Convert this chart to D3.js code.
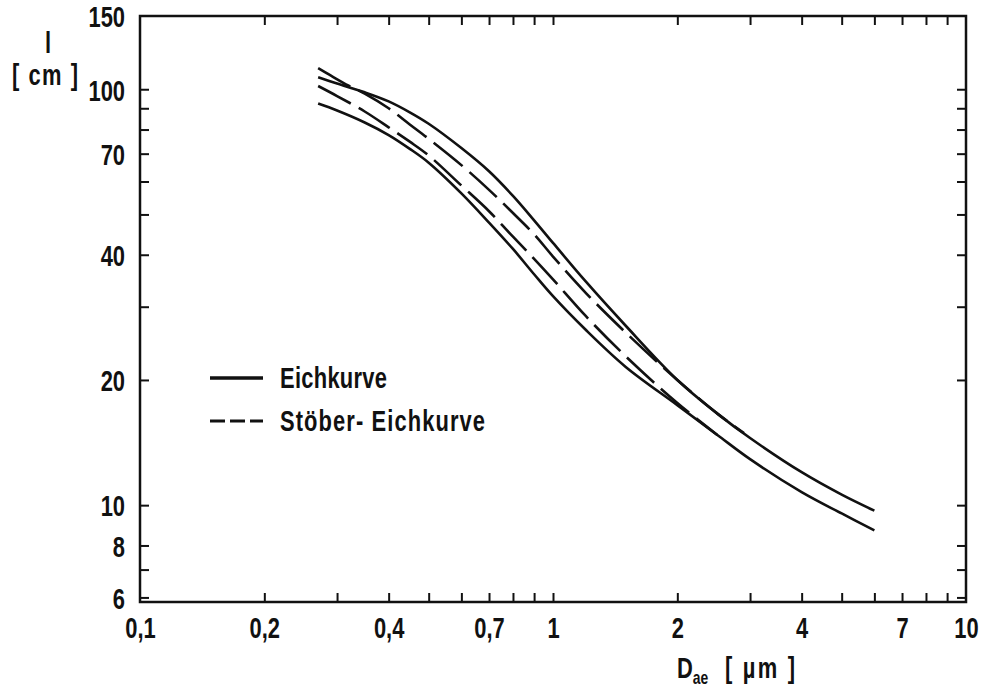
<!DOCTYPE html>
<html>
<head>
<meta charset="utf-8">
<script src="https://cdn.jsdelivr.net/npm/d3@7"></script>
<style>
  body { margin: 0; background: #fff; }
  svg text { font-family: "Liberation Sans", Arial, sans-serif; font-weight: bold; fill: #111; }
</style>
</head>
<body>
<svg id="chart" width="983" height="688"></svg>
<script>
// data (D_ae in µm, l in cm)
const xEich = [0.27, 0.3, 0.35, 0.4, 0.45, 0.5, 0.6, 0.7, 0.8, 0.9, 1, 1.2, 1.5, 2, 2.5, 3, 4, 5, 6];
const eichOben = [106.8, 103.2, 98.3, 93.5, 88.0, 82.6, 72.2, 63.5, 55.4, 48.4, 42.7, 34.5, 27.0, 20.0, 16.6, 14.5, 12.0, 10.6, 9.7];
const eichUnten = [92.4, 88.9, 83.2, 77.6, 71.9, 66.6, 56.2, 47.8, 41.3, 35.9, 31.8, 26.4, 21.5, 17.4, 14.75, 12.9, 10.75, 9.55, 8.7];

const xStoeberOben = [0.27, 0.29, 0.32, 0.35, 0.4, 0.45, 0.5, 0.6, 0.7, 0.8, 0.9, 1, 1.2, 1.5, 2, 2.5, 2.9];
const stoeberOben = [112.4, 107.8, 102.0, 97.6, 90.0, 82.3, 76.0, 65.7, 57.3, 50.4, 44.8, 39.6, 32.4, 26.0, 20.0, 16.6, 14.9];
const xStoeberUnten = [0.27, 0.3, 0.35, 0.4, 0.45, 0.5, 0.6, 0.7, 0.8, 0.9, 1, 1.2, 1.5, 2, 2.5];
const stoeberUnten = [101.8, 96.3, 88.4, 81.0, 74.8, 69.3, 58.7, 50.9, 44.2, 39.1, 34.9, 28.5, 22.8, 17.6, 14.75];

const xTicks = [0.2, 0.3, 0.4, 0.5, 0.6, 0.7, 0.8, 0.9, 1, 2, 3, 4, 5, 6, 7, 8, 9];
const xLabels = [0.1, 0.2, 0.4, 0.7, 1, 2, 4, 7, 10];
const yTicks = [6, 7, 8, 10, 20, 30, 40, 50, 60, 70, 80, 90, 100];
const yLabels = [6, 8, 10, 20, 40, 70, 100, 150];

const legendItems = ["Eichkurve", "Stöber- Eichkurve"];
const legendWidths = [107, 205];

const margin = { left: 140, right: 966, top: 16, bottom: 602 };
const ink = "#111";
const squeeze = 0.73; // the original lettering is a narrow face
const fs = 30;

const svg = d3.select("#chart");

const x = d3.scaleLog().domain([0.1, 10]).range([margin.left, margin.right]);
const y = d3.scaleLog().domain([5.85, 150]).range([margin.bottom, margin.top]);

// inward ticks on all four sides
function clean(g) {
  g.select(".domain").remove();
  g.selectAll("line").attr("stroke", ink).attr("stroke-width", 2);
}
svg.append("g").attr("transform", `translate(0,${margin.bottom})`)
  .call(d3.axisBottom(x).tickValues(xTicks).tickSize(-9).tickFormat(""))
  .call(clean);
svg.append("g").attr("transform", `translate(0,${margin.top})`)
  .call(d3.axisTop(x).tickValues(xTicks).tickSize(-9).tickFormat(""))
  .call(clean);
svg.append("g").attr("transform", `translate(${margin.left},0)`)
  .call(d3.axisLeft(y).tickValues(yTicks).tickSize(-9).tickFormat(""))
  .call(clean);
svg.append("g").attr("transform", `translate(${margin.right},0)`)
  .call(d3.axisRight(y).tickValues(yTicks).tickSize(-9).tickFormat(""))
  .call(clean);

// tick labels
const xl = svg.append("g").attr("transform", `translate(0,${margin.bottom})`)
  .call(d3.axisBottom(x).tickValues(xLabels).tickSize(0).tickPadding(15)
    .tickFormat(d => String(d).replace(".", ",")));
xl.select(".domain").remove();
xl.attr("font-family", null).attr("font-size", null);
xl.selectAll("text").attr("font-size", fs).attr("transform", `scale(${squeeze},1)`);

const yl = svg.append("g").attr("transform", `translate(${margin.left},0)`)
  .call(d3.axisLeft(y).tickValues(yLabels).tickSize(0).tickPadding(15)
    .tickFormat(d => String(d)));
yl.select(".domain").remove();
yl.attr("font-family", null).attr("font-size", null);
yl.selectAll("text").attr("font-size", fs).attr("dy", "0.36em")
  .attr("x", -15 / squeeze).attr("transform", `scale(${squeeze},1)`);

// frame
svg.append("rect")
  .attr("x", margin.left).attr("y", margin.top)
  .attr("width", margin.right - margin.left).attr("height", margin.bottom - margin.top)
  .attr("fill", "none").attr("stroke", ink).attr("stroke-width", 2.5);

// curves
const line = d3.line()
  .x(d => x(d[0]))
  .y(d => y(d[1]))
  .curve(d3.curveCatmullRom.alpha(0.5));

const curves = [
  { xs: xEich, ys: eichOben, dash: null },
  { xs: xEich, ys: eichUnten, dash: null },
  { xs: xStoeberOben, ys: stoeberOben, dash: "37,9" },
  { xs: xStoeberUnten, ys: stoeberUnten, dash: "37,9" }
];
curves.forEach(c => {
  svg.append("path")
    .datum(c.xs.map((v, i) => [v, c.ys[i]]))
    .attr("d", line)
    .attr("fill", "none")
    .attr("stroke", ink)
    .attr("stroke-width", 2.6)
    .attr("stroke-dasharray", c.dash);
});

// narrow text helper
function label(px, py, size, str, anchor) {
  return svg.append("text")
    .attr("transform", `translate(${px},${py}) scale(${squeeze},1)`)
    .attr("font-size", size)
    .attr("text-anchor", anchor || "start")
    .attr("xml:space", "preserve")
    .text(str);
}

// legend
legendItems.forEach((t, i) => {
  const ly = 378 + i * 43;
  svg.append("line")
    .attr("x1", 210).attr("x2", 263).attr("y1", ly).attr("y2", ly)
    .attr("stroke", ink).attr("stroke-width", i === 0 ? 3.5 : 3)
    .attr("stroke-dasharray", i === 0 ? null : "15,5");
  label(280, ly + 10, fs, t)
    .attr("textLength", legendWidths[i] / squeeze)
    .attr("lengthAdjust", "spacing");
});

// axis titles
label(48, 53, fs, "l", "middle");
label(45, 85, fs, "[ cm ]", "middle").attr("textLength", 66 / squeeze).attr("lengthAdjust", "spacing");

const xt = label(677, 678, fs, "D");
xt.append("tspan").attr("font-size", 19).attr("dy", 6).text("ae");
label(725, 678, fs, "[ µm ]").attr("textLength", 70 / squeeze).attr("lengthAdjust", "spacing");
</script>
</body>
</html>
